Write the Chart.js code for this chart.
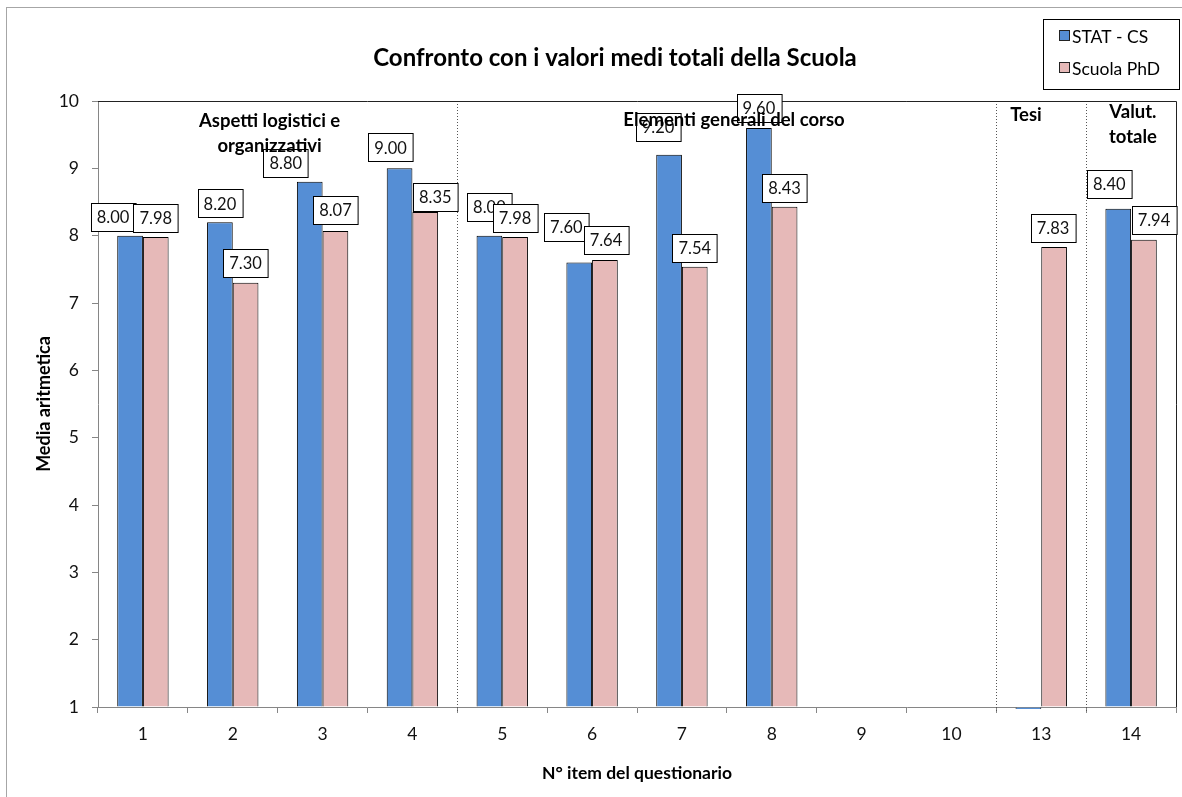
<!DOCTYPE html>
<html>
<head>
<meta charset="utf-8">
<title>Confronto con i valori medi totali della Scuola</title>
<script src="https://cdn.jsdelivr.net/npm/chart.js@4.4.1/dist/chart.umd.min.js"></script>
<style>
  html, body { margin: 0; padding: 0; background: #fff; }
  #wrap { width: 1182px; height: 797px; }
</style>
</head>
<body>
<div id="wrap"><canvas id="chart" width="1182" height="797"></canvas></div>
<script>
// ======================
// DATA
// ======================
const items = ["1", "2", "3", "4", "5", "6", "7", "8", "9", "10", "13", "14"];
const statCS = [8.0, 8.2, 8.8, 9.0, 8.0, 7.6, 9.2, 9.6, null, null, 0, 8.4];
const scuolaPhD = [7.98, 7.3, 8.07, 8.35, 7.98, 7.64, 7.54, 8.43, null, null, 7.83, 7.94];
const seriesNames = ["STAT - CS", "Scuola PhD"];
const sectionTitles = [
  ["Aspetti logistici e", "organizzativi"],
  ["Elementi generali del corso"],
  ["Tesi"],
  ["Valut.", "totale"],
];
const chartTitle = "Confronto con i valori medi totali della Scuola";

// ======================
// LOOK
// ======================
const FONT = "Lato, 'Open Sans', sans-serif";
const AXIS_GREY = "#868686";
const BLUE = "#558ed5";
const PINK = "#e6b9b8";

// where Excel had moved some labels (px)
const labelNudge = [
  { dx: [-17, 0, -24, -9, 0, -13, -11, 0, 0, 0, 0, -9], dy: [0, 0, 0, -2, -10, -17, -9, -1, 0, 0, 0, -6] },
  { dx: [0, 0, 0, 10, 0, 1, 0, 0, 0, 0, -1, 10], dy: [0, -1, -2, 4, 0, -1, 0, 0, 0, 0, 0, -1] },
];
// section titles anchored in category index / value units
const sectionAnchors = [
  { x: 1.41, y: 9.7 },
  { x: 6.58, y: 9.72 },
  { x: 9.83, y: 9.79 },
  { x: 11.02, y: 9.84 },
];
// dotted separators between groups (category index)
const separators = [3.5, 9.5, 10.5];

function catPixel(scale, idx) {
  const step = (scale.right - scale.left) / items.length;
  return scale.left + (idx + 0.5) * step;
}

const decor = {
  id: "decor",
  beforeDraw(chart) {
    const ctx = chart.ctx;
    ctx.save();
    ctx.fillStyle = "#fff";
    ctx.fillRect(0, 0, chart.width, chart.height);
    ctx.strokeStyle = "#a6a6a6";
    ctx.lineWidth = 1;
    ctx.strokeRect(6.5, 7.5, chart.width + 20, chart.height + 20);
    ctx.restore();
  },
  beforeDatasetsDraw(chart) {
    const { ctx, chartArea: a, scales } = chart;
    ctx.save();
    ctx.strokeStyle = "#555";
    ctx.lineWidth = 1;
    ctx.setLineDash([1, 2]);
    separators.forEach((s) => {
      const x = Math.round(catPixel(scales.x, s)) + 0.5;
      ctx.beginPath();
      ctx.moveTo(x, a.top);
      ctx.lineTo(x, a.bottom + 6);
      ctx.stroke();
    });
    ctx.restore();
  },
  afterDatasetsDraw(chart) {
    const { ctx, chartArea: a, scales } = chart;
    ctx.save();

    // plot frame top / right
    ctx.strokeStyle = "#222";
    ctx.lineWidth = 1;
    ctx.beginPath();
    ctx.moveTo(a.left, Math.round(a.top) + 0.5);
    ctx.lineTo(Math.round(a.right) + 0.5, Math.round(a.top) + 0.5);
    ctx.lineTo(Math.round(a.right) + 0.5, a.bottom);
    ctx.stroke();

    // value labels
    ctx.font = "16.5px " + FONT;
    ctx.textAlign = "center";
    ctx.textBaseline = "middle";
    chart.data.datasets.forEach((ds, di) => {
      const meta = chart.getDatasetMeta(di);
      meta.data.forEach((bar, i) => {
        const v = ds.data[i];
        if (v == null || v < scales.y.min) return;
        const txt = v.toFixed(2);
        const w = ctx.measureText(txt).width + 12;
        const h = 28;
        const cx = bar.x + labelNudge[di].dx[i];
        const cy = bar.y - 19 + labelNudge[di].dy[i];
        const bx = Math.round(cx - w / 2) + 0.5;
        const by = Math.round(cy - h / 2) + 0.5;
        ctx.fillStyle = "#fff";
        ctx.fillRect(bx, by, w, h);
        ctx.strokeStyle = "#000";
        ctx.strokeRect(bx, by, w, h);
        ctx.fillStyle = "#111";
        ctx.fillText(txt, cx, cy + 1);
      });
    });

    // section titles
    ctx.font = "bold 18.5px " + FONT;
    ctx.fillStyle = "#000";
    sectionTitles.forEach((lines, k) => {
      const x = catPixel(scales.x, sectionAnchors[k].x);
      const y = scales.y.getPixelForValue(sectionAnchors[k].y);
      lines.forEach((ln, j) => ctx.fillText(ln, x, y + j * 25));
    });
    ctx.restore();
  },
  afterDraw(chart) {
    const ctx = chart.ctx;
    ctx.save();
    // title
    ctx.font = "bold 24px " + FONT;
    ctx.fillStyle = "#000";
    ctx.textAlign = "center";
    ctx.textBaseline = "middle";
    ctx.fillText(chartTitle, 615, 58);

    // legend
    ctx.strokeStyle = "#000";
    ctx.lineWidth = 1;
    ctx.strokeRect(1043.5, 19.5, 136, 70);
    ctx.font = "17.5px " + FONT;
    ctx.textAlign = "left";
    chart.data.datasets.forEach((ds, i) => {
      const y = 36 + i * 32;
      ctx.fillStyle = ds.backgroundColor;
      ctx.fillRect(1059.5, y - 5.5, 10, 10);
      ctx.strokeStyle = "#222";
      ctx.strokeRect(1059.5, y - 5.5, 10, 10);
      ctx.fillStyle = "#000";
      ctx.fillText(ds.label, 1072, y + 1);
    });
    ctx.restore();
  },
};

new Chart(document.getElementById("chart"), {
  type: "bar",
  data: {
    labels: items,
    datasets: [
      { label: seriesNames[0], data: statCS, backgroundColor: BLUE, borderColor: "#000", borderWidth: 1, base: 1, clip: 2 },
      { label: seriesNames[1], data: scuolaPhD, backgroundColor: PINK, borderColor: "#000", borderWidth: 1, base: 1, clip: 2 },
    ],
  },
  options: {
    responsive: false,
    animation: false,
    layout: { padding: { left: 0, top: 101, right: 6, bottom: 0 } },
    datasets: { bar: { categoryPercentage: 0.572, barPercentage: 1 } },
    plugins: {
      legend: { display: false },
      title: { display: false },
      tooltip: { enabled: false },
    },
    scales: {
      x: {
        grid: { drawOnChartArea: false, tickLength: 6, color: AXIS_GREY, offset: true },
        border: { color: AXIS_GREY },
        ticks: { color: "#111", font: { family: FONT, size: 17.5 }, padding: 11 },
        title: {
          display: true,
          text: "N° item del questionario",
          color: "#000",
          font: { family: FONT, size: 17.5, weight: "bold" },
          padding: { top: 0, bottom: 13 },
        },
        afterFit(s) { s.height = 90; },
      },
      y: {
        min: 1,
        max: 10,
        grid: { drawOnChartArea: false, tickLength: 6, color: AXIS_GREY },
        border: { color: AXIS_GREY },
        ticks: { stepSize: 1, color: "#111", font: { family: FONT, size: 17.5 }, padding: 13 },
        title: {
          display: true,
          text: "Media aritmetica",
          color: "#000",
          font: { family: FONT, size: 18, weight: "bold" },
          padding: { top: 33, bottom: 0 },
        },
        afterFit(s) { s.width = 98; },
      },
    },
  },
  plugins: [decor],
});
</script>
</body>
</html>
